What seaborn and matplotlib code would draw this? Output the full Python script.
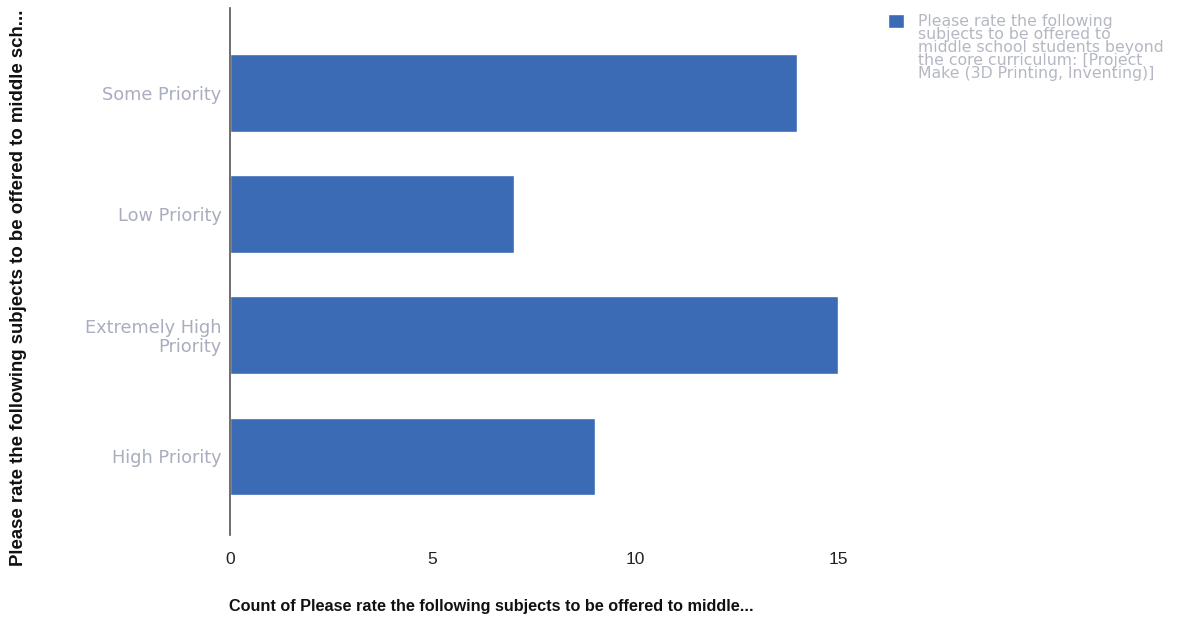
import seaborn as sns
import matplotlib.pyplot as plt
import pandas as pd

# chart data
categories = ["Some Priority", "Low Priority", "Extremely High\nPriority", "High Priority"]
counts = [14, 7, 15, 9]
x_ticks = [0, 5, 10, 15]
series_name = ("Please rate the following\nsubjects to be offered to\nmiddle school students beyond\n"
               "the core curriculum: [Project\nMake (3D Printing, Inventing)]")

df = pd.DataFrame({"category": categories, "count": counts})

sns.set_theme(style="white")
plt.rcParams['font.family'] = ['Liberation Sans', 'DejaVu Sans']

fig = plt.figure(figsize=(12.04, 6.23), dpi=100)
ax = fig.add_axes([0.191, 0.141, 0.505, 0.846])

bar_color = "#3a6bb4"
sns.barplot(data=df, x="count", y="category", color=bar_color, width=0.64,
            saturation=1, ax=ax, label=series_name)

ax.set_xlim(0, 15)
ax.set_ylim(3.65, -0.7)
ax.set_xticks(x_ticks)
ax.tick_params(axis='x', length=0, pad=12, labelsize=12.5, labelcolor="#222222")
ax.tick_params(axis='y', length=0, pad=6, labelsize=12.8, labelcolor="#a9adbf")
for lbl in ax.get_yticklabels():
    lbl.set_family(['DejaVu Sans'])
    lbl.set_horizontalalignment('right')
    lbl.set_multialignment('right')
    lbl.set_linespacing(1.05)

for s in ["top", "right", "bottom"]:
    ax.spines[s].set_visible(False)
ax.spines["left"].set_color("#555555")
ax.spines["left"].set_linewidth(1.2)

ax.set_xlabel("Count of Please rate the following subjects to be offered to middle...",
              fontsize=11.7, fontweight="bold", color="#111111")
ax.xaxis.set_label_coords(0.43, -0.122)
ax.set_ylabel("Please rate the following subjects to be offered to middle sch...",
              fontsize=13.4, fontweight="bold", color="#111111")
ax.yaxis.set_label_coords(-0.333, 0.47)

leg = ax.legend(loc="upper left", bbox_to_anchor=(1.072, 1.0), frameon=False,
                fontsize=11.3, handlelength=1.0, handleheight=1.0, handletextpad=0.9,
                borderaxespad=0)
for t in leg.get_texts():
    t.set_color("#b5b8c4")
    t.set_family(['DejaVu Sans'])
    t.set_linespacing(0.82)
# align the legend swatch with the first text line
for col in leg._legend_handle_box.get_children():
    for row in col.get_children():
        row.align = "top"

fig.savefig("out.png", dpi=100)
